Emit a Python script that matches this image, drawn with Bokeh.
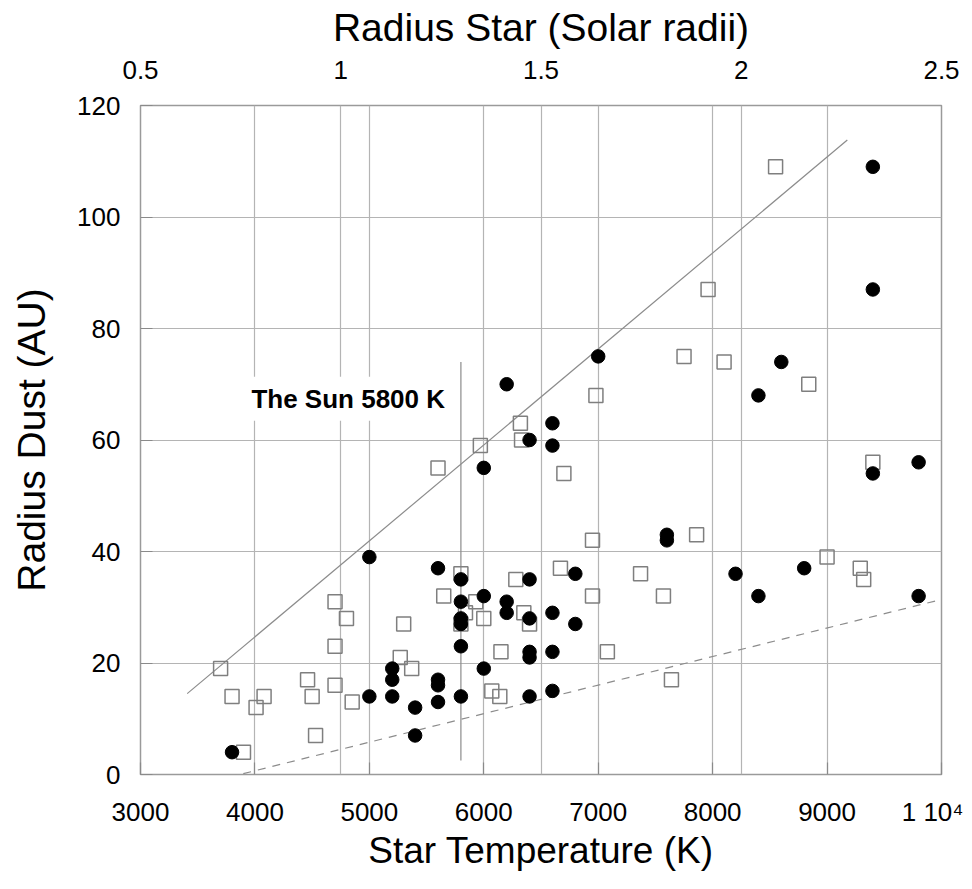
from bokeh.plotting import figure
from bokeh.models import Range1d, LinearAxis, FixedTicker, Grid, Label, CustomJSTickFormatter
from bokeh.embed import file_html
from bokeh.resources import INLINE

# ---- data ----
filled_temp = [6400, 6000, 5000, 5600, 5800, 6400, 6000, 6200, 6200, 5800, 5800, 5800, 6400,
               5800, 6400, 6400, 6000, 5200, 5200, 5000, 5200, 5600, 5600, 5600, 5800, 5400,
               5400, 6400, 3800, 6600, 9800, 9400, 7600, 7600, 6800, 8200, 8800, 8400, 9800,
               6600, 6800, 6600, 6600, 9400, 9400, 7000, 8600, 8400, 6600, 6200]
filled_dust = [60, 55, 39, 37, 35, 35, 32, 31, 29, 31, 28, 27, 28,
               23, 22, 21, 19, 19, 17, 14, 14, 17, 16, 13, 14, 12,
               7, 14, 4, 59, 56, 54, 43, 42, 36, 36, 37, 32, 32,
               29, 27, 22, 15, 109, 87, 75, 74, 68, 63, 70]

open_temp = [5970, 5600, 6320, 6330, 5800, 6280, 5650, 5930, 5840, 6350, 6000, 5800, 6400,
             5300, 4700, 4800, 4700, 5270, 5370, 6150, 4460, 4700, 4500, 3800, 4080, 4010,
             4850, 6070, 6140, 4530, 3900, 3700, 6700, 9400, 6950, 7860, 6670, 7370, 6950,
             7570, 9000, 9290, 9320, 7080, 7640, 8550, 7960, 7750, 8100, 8840, 6980]
open_dust = [59, 55, 63, 60, 36, 35, 32, 31, 29, 29, 28, 27, 27,
             27, 31, 28, 23, 21, 19, 22, 17, 16, 14, 14, 14, 12,
             13, 15, 14, 7, 4, 19, 54, 56, 42, 43, 37, 36, 32,
             32, 39, 37, 35, 22, 17, 109, 87, 75, 74, 70, 68]

upper_fit_temp = [3408, 9177]
upper_fit_dust = [14.5, 113.8]
lower_fit_temp = [3771, 10000]
lower_fit_dust = [-0.5, 31.4]

sun_temp = [5800, 5800]
sun_dust = [2.5, 74]
sun_label = "The Sun 5800 K"

temp_ticks = [3000, 4000, 5000, 6000, 7000, 8000, 9000, 10000]
dust_ticks = [0, 20, 40, 60, 80, 100, 120]
radius_ticks = [0.5, 1, 1.5, 2, 2.5]

FONT = "Liberation Sans"
GRID = "#b4b4b4"

p = figure(width=963, height=881,
           x_range=Range1d(3000, 10000), y_range=Range1d(0, 120),
           output_backend="svg", toolbar_location=None,
           min_border_left=140, min_border_right=22,
           min_border_top=105, min_border_bottom=107)
p.background_fill_color = "white"
p.border_fill_color = "white"
p.outline_line_color = "#9a9a9a"
p.outline_line_width = 1.5

# bottom axis
xa = p.xaxis[0]
xa.ticker = FixedTicker(ticks=temp_ticks)
xa.formatter = CustomJSTickFormatter(code="return tick == 10000 ? '1 10\u2074' : tick.toString();")
xa.axis_label = "Star Temperature (K)"
# left axis
ya = p.yaxis[0]
ya.ticker = FixedTicker(ticks=dust_ticks)
ya.axis_label = "Radius Dust (AU)"

# top axis (star radius)
p.extra_x_ranges = {"radius": Range1d(0.5, 2.5)}
ta = LinearAxis(x_range_name="radius", ticker=FixedTicker(ticks=radius_ticks),
                formatter=CustomJSTickFormatter(code="return tick.toString();"),
                axis_label="Radius Star (Solar radii)")
p.add_layout(ta, "above")

for ax in (xa, ya, ta):
    ax.axis_line_color = None
    ax.major_tick_in = 0
    ax.major_tick_out = 0
    ax.minor_tick_line_color = None
    ax.major_label_text_font = FONT
    ax.major_label_text_font_size = "26px"
    ax.major_label_text_color = "black"
    ax.axis_label_text_font = FONT
    ax.axis_label_text_font_style = "normal"
    ax.axis_label_text_color = "black"

ta.axis_label_text_font_size = "39px"
ya.axis_label_text_font_size = "39px"
xa.axis_label_text_font_size = "37px"

for ax in (xa, ya):
    ax.major_tick_in = 12
    ax.major_tick_line_color = "#8a8a8a"
    ax.major_tick_line_width = 1.2

xa.major_label_standoff = 22
xa.axis_label_standoff = 0
ta.major_label_standoff = 27
ta.axis_label_standoff = 9
ya.major_label_standoff = 20
ya.axis_label_standoff = 21

# grids
p.xgrid.ticker = FixedTicker(ticks=temp_ticks)
p.ygrid.ticker = FixedTicker(ticks=dust_ticks)
p.xgrid.grid_line_color = GRID
p.ygrid.grid_line_color = GRID
p.xgrid.grid_line_width = 1.2
p.ygrid.grid_line_width = 1.2
rg = Grid(dimension=0, ticker=ta.ticker, x_range_name="radius",
          grid_line_color=GRID, grid_line_width=1.2)
p.add_layout(rg)

# fit lines
p.line(upper_fit_temp, upper_fit_dust, line_color="#8c8c8c", line_width=1.2)
p.line(lower_fit_temp, lower_fit_dust, line_color="#8c8c8c", line_width=1.2, line_dash="8 7")

# sun marker line
p.line(sun_temp, sun_dust, line_color="#8c8c8c", line_width=1.2)

# points
p.scatter(open_temp, open_dust, marker="square", size=14, fill_color=None,
          line_color="#7f7f7f", line_width=1.5)
p.scatter(filled_temp, filled_dust, marker="circle", size=13.5, fill_color="black",
          line_color="black")

lab = Label(x=3908, y=67.4, text=sun_label, text_font=FONT, text_font_size="26px",
            text_font_style="bold", text_color="black", text_baseline="middle",
            text_align="left", background_fill_color="white", padding=7)
p.add_layout(lab)

open("out.html", "w").write(file_html(p, INLINE))
